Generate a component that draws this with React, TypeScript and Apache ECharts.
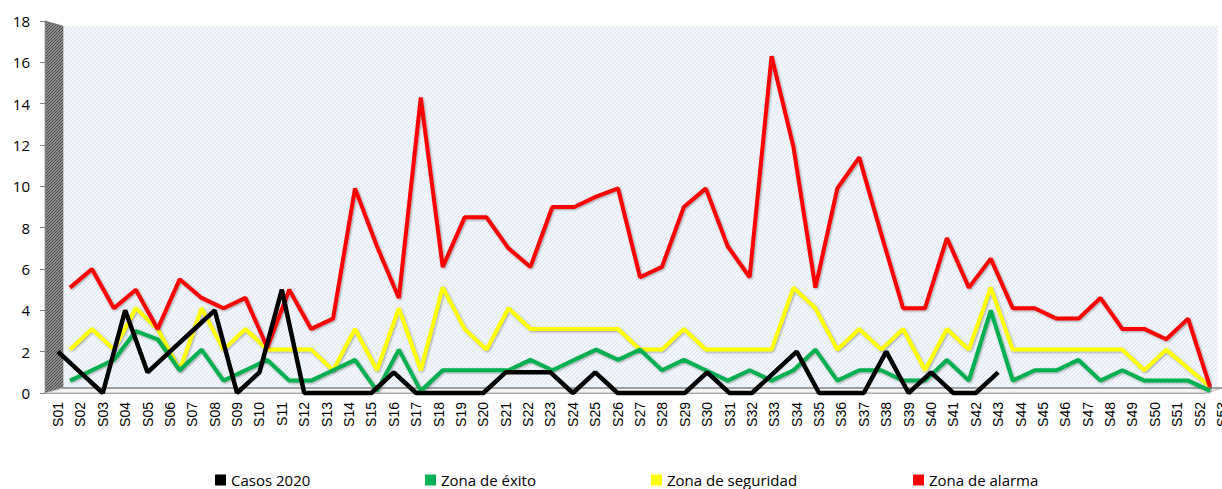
import React, { useEffect, useRef } from "react";
import * as echarts from "echarts";

const weeks = [
  "S01", "S02", "S03", "S04", "S05", "S06", "S07", "S08", "S09", "S10",
  "S11", "S12", "S13", "S14", "S15", "S16", "S17", "S18", "S19", "S20",
  "S21", "S22", "S23", "S24", "S25", "S26", "S27", "S28", "S29", "S30",
  "S31", "S32", "S33", "S34", "S35", "S36", "S37", "S38", "S39", "S40",
  "S41", "S42", "S43", "S44", "S45", "S46", "S47", "S48", "S49", "S50",
  "S51", "S52", "S53",
];

const casos2020 = [
  2, 1, 0, 4, 1, 2, 3, 4, 0, 1,
  5, 0, 0, 0, 0, 1, 0, 0, 0, 0,
  1, 1, 1, 0, 1, 0, 0, 0, 0, 1,
  0, 0, 1, 2, 0, 0, 0, 2, 0, 1,
  0, 0, 1,
];

const zonaExito = [
  0.6, 1.1, 1.6, 3.0, 2.6, 1.1, 2.1, 0.6, 1.1, 1.6,
  0.6, 0.6, 1.1, 1.6, 0.1, 2.1, 0.1, 1.1, 1.1, 1.1,
  1.1, 1.6, 1.1, 1.6, 2.1, 1.6, 2.1, 1.1, 1.6, 1.1,
  0.6, 1.1, 0.6, 1.1, 2.1, 0.6, 1.1, 1.1, 0.6, 0.6,
  1.6, 0.6, 4.0, 0.6, 1.1, 1.1, 1.6, 0.6, 1.1, 0.6,
  0.6, 0.6, 0.1,
];

const zonaSeguridad = [
  2.1, 3.1, 2.1, 4.1, 3.1, 1.1, 4.1, 2.1, 3.1, 2.1,
  2.1, 2.1, 1.1, 3.1, 1.1, 4.1, 1.1, 5.1, 3.1, 2.1,
  4.1, 3.1, 3.1, 3.1, 3.1, 3.1, 2.1, 2.1, 3.1, 2.1,
  2.1, 2.1, 2.1, 5.1, 4.1, 2.1, 3.1, 2.1, 3.1, 1.1,
  3.1, 2.1, 5.1, 2.1, 2.1, 2.1, 2.1, 2.1, 2.1, 1.1,
  2.1, 1.2, 0.3,
];

const zonaAlarma = [
  5.1, 6.0, 4.1, 5.0, 3.1, 5.5, 4.6, 4.1, 4.6, 2.2,
  5.0, 3.1, 3.6, 9.9, 7.1, 4.6, 14.3, 6.1, 8.5, 8.5,
  7.0, 6.1, 9.0, 9.0, 9.5, 9.9, 5.6, 6.1, 9.0, 9.9,
  7.1, 5.6, 16.3, 11.9, 5.1, 9.9, 11.4, 7.7, 4.1, 4.1,
  7.5, 5.1, 6.5, 4.1, 4.1, 3.6, 3.6, 4.6, 3.1, 3.1,
  2.6, 3.6, 0.3,
];

const seriesNames = ["Casos 2020", "Zona de éxito", "Zona de seguridad", "Zona de alarma"];
const seriesColors = ["#000000", "#00b050", "#ffff00", "#ff0000"];
const yTicks = { min: 0, max: 18, interval: 2 };

function stripeURL(bg: string, fg: string, size: number, lw: number): string {
  const c = document.createElement("canvas");
  c.width = size;
  c.height = size;
  const ctx = c.getContext("2d");
  if (!ctx) return "";
  ctx.fillStyle = bg;
  ctx.fillRect(0, 0, size, size);
  ctx.strokeStyle = fg;
  ctx.lineWidth = lw;
  ctx.beginPath();
  ctx.moveTo(-1, size + 1);
  ctx.lineTo(size + 1, -1);
  ctx.moveTo(-1, 1);
  ctx.lineTo(1, -1);
  ctx.moveTo(size - 1, size + 1);
  ctx.lineTo(size + 1, size - 1);
  ctx.stroke();
  return c.toDataURL();
}

export default function App() {
  const ref = useRef<HTMLDivElement>(null);

  useEffect(() => {
    if (!ref.current) return;
    const chart = echarts.init(ref.current, null, { renderer: "svg", width: 1222, height: 489 });

    const backPattern = stripeURL("#f2f6fb", "#dce5f0", 4, 1);
    const wallPattern = stripeURL("#8a8a8a", "#4f4f4f", 3, 1);

    const legendLefts = [215, 425, 651, 913];
    const colorOf = (name: string) => seriesColors[seriesNames.indexOf(name)];

    const lineShadow = {
      shadowColor: "rgba(0,0,0,0.35)",
      shadowBlur: 2,
      shadowOffsetX: 1,
      shadowOffsetY: 1,
    };

    const option: any = {
      animation: false,
      backgroundColor: "#ffffff",
      grid: [
        { left: 58, width: 1164, top: 21, bottom: 96, outerBoundsMode: "none", containLabel: false },
        { left: 70, width: 1140, top: 21, bottom: 96, outerBoundsMode: "none", containLabel: false },
      ],
      xAxis: [
        {
          type: "category",
          gridIndex: 0,
          data: weeks,
          boundaryGap: false,
          axisLine: { show: false },
          axisTick: { show: false },
          axisLabel: {
            interval: 0,
            rotate: 90,
            margin: 9,
            color: "#000000",
            fontFamily: "Liberation Sans",
            fontSize: 14,
            hideOverlap: false,
          },
          splitLine: { show: false },
          z: 1,
        },
        {
          type: "category",
          gridIndex: 1,
          data: weeks,
          boundaryGap: false,
          show: false,
        },
      ],
      yAxis: [
        {
          type: "value",
          gridIndex: 0,
          min: yTicks.min,
          max: yTicks.max,
          interval: yTicks.interval,
          offset: 13,
          axisLine: { show: true, lineStyle: { color: "#7f7f7f", width: 1 } },
          axisTick: { show: true, length: 5, lineStyle: { color: "#7f7f7f" } },
          axisLabel: {
            margin: 15,
            color: "#000000",
            fontFamily: "Open Sans",
            fontSize: 15,
          },
          splitLine: { show: false },
          z: 1,
        },
        {
          type: "value",
          gridIndex: 1,
          min: yTicks.min,
          max: yTicks.max,
          interval: yTicks.interval,
          show: false,
          splitLine: { show: false },
        },
      ],
      legend: seriesNames.map((name, i) => ({
        data: [name],
        left: legendLefts[i],
        top: 471,
        padding: 0,
        itemWidth: 11,
        itemHeight: 11,
        icon: "rect",
        itemStyle: { color: colorOf(name), borderWidth: 0 },
        lineStyle: { width: 0 },
        textStyle: {
          fontFamily: "Open Sans",
          fontSize: 15,
          color: "#000000",
          lineHeight: 18,
        },
      })),
      graphic: [
        {
          type: "rect",
          z: -10,
          shape: { x: 63, y: 26, width: 1155, height: 362 },
          style: {
            fill: { image: backPattern, repeat: "repeat", imageWidth: 4, imageHeight: 4 },
          },
          silent: true,
        },
        {
          type: "polygon",
          z: -9,
          shape: { points: [[45, 21], [63, 26], [63, 388], [45, 393]] },
          style: {
            fill: { image: wallPattern, repeat: "repeat", imageWidth: 3, imageHeight: 3 },
            stroke: "#5a5a5a",
            lineWidth: 0.5,
          },
          silent: true,
        },
        {
          type: "polygon",
          z: -9,
          shape: { points: [[45, 393], [63, 388], [1222, 388], [1206, 393]] },
          style: { fill: "#f4f4f4", stroke: "#b5b5b5", lineWidth: 1 },
          silent: true,
        },
        {
          type: "line",
          z: -8,
          shape: { x1: 63, y1: 388, x2: 1222, y2: 388 },
          style: { stroke: "#8c8c8c", lineWidth: 1.5 },
          silent: true,
        },
        {
          type: "line",
          z: -8,
          shape: { x1: 40, y1: 393.5, x2: 1206, y2: 393.5 },
          style: { stroke: "#a6a6a6", lineWidth: 1.2 },
          silent: true,
        },
      ],
      series: [
        {
          name: "Zona de seguridad",
          type: "line",
          xAxisIndex: 1,
          yAxisIndex: 1,
          data: zonaSeguridad,
          showSymbol: false,
          symbol: "none",
          clip: false,
          lineStyle: { color: colorOf("Zona de seguridad"), width: 4, ...lineShadow },
          itemStyle: { color: colorOf("Zona de seguridad") },
        },
        {
          name: "Zona de éxito",
          type: "line",
          xAxisIndex: 1,
          yAxisIndex: 1,
          data: zonaExito,
          showSymbol: false,
          symbol: "none",
          clip: false,
          lineStyle: { color: colorOf("Zona de éxito"), width: 4, ...lineShadow },
          itemStyle: { color: colorOf("Zona de éxito") },
        },
        {
          name: "Zona de alarma",
          type: "line",
          xAxisIndex: 1,
          yAxisIndex: 1,
          data: zonaAlarma,
          showSymbol: false,
          symbol: "none",
          clip: false,
          lineStyle: { color: colorOf("Zona de alarma"), width: 4, ...lineShadow },
          itemStyle: { color: colorOf("Zona de alarma") },
        },
        {
          name: "Casos 2020",
          type: "line",
          xAxisIndex: 0,
          yAxisIndex: 0,
          data: casos2020,
          showSymbol: false,
          symbol: "none",
          clip: false,
          lineStyle: { color: colorOf("Casos 2020"), width: 4.5 },
          itemStyle: { color: colorOf("Casos 2020") },
        },
      ],
    };

    chart.setOption(option);
    return () => {
      chart.dispose();
    };
  }, []);

  return (
    <div
      ref={ref}
      style={{ position: "fixed", left: 0, top: 0, width: 1222, height: 489, background: "#ffffff" }}
    />
  );
}
